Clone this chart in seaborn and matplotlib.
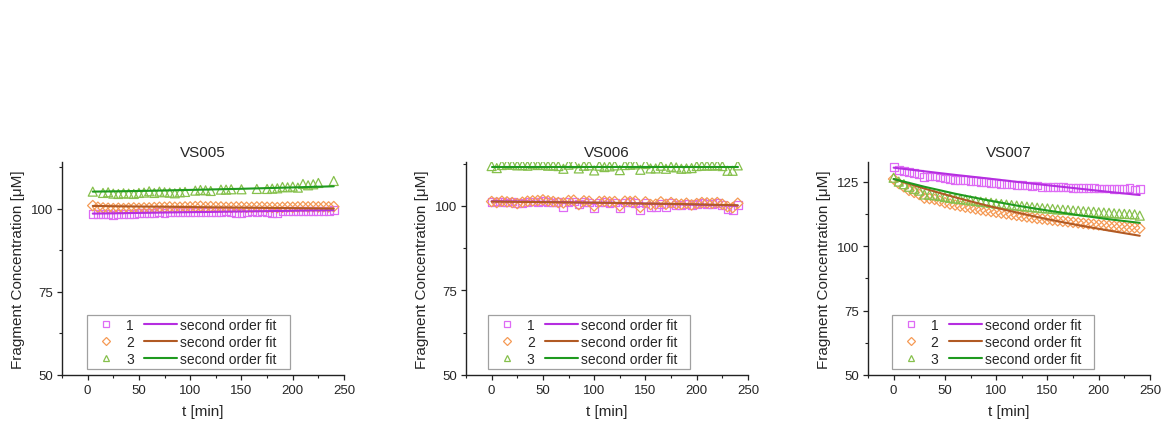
import numpy as np
import pandas as pd
import matplotlib
matplotlib.use("Agg")
import matplotlib.pyplot as plt
from matplotlib.lines import Line2D
from matplotlib.patches import Rectangle
from matplotlib.ticker import MultipleLocator
import seaborn as sns

nan = np.nan

# ---------------- data ----------------
panel_titles = ["VS005", "VS006", "VS007"]
series_labels = ["1", "2", "3"]
fit_label = "second order fit"

t_vs005 = [5, 10, 15, 20, 25, 30, 35, 40, 45, 50, 55, 60, 65, 70, 75, 80, 85, 90, 95, 100,
           105, 110, 115, 120, 125, 130, 135, 140, 145, 150, 155, 160, 165, 170, 175, 180,
           185, 190, 195, 200, 205, 210, 215, 220, 225, 230, 235, 240]
t_full = [0, 5, 10, 15, 20, 25, 30, 35, 40, 45, 50, 55, 60, 65, 70, 75, 80, 85, 90, 95, 100,
          105, 110, 115, 120, 125, 130, 135, 140, 145, 150, 155, 160, 165, 170, 175, 180,
          185, 190, 195, 200, 205, 210, 215, 220, 225, 230, 235, 240]

vs005_1 = [98.5, 98.3, 98.4, 98.4, 98.2, 98.3, 98.4, 98.5, 98.5, 98.6,
           98.7, 98.6, 98.8, 98.9, 98.8, 98.9, 99.0, 98.9, 99.1, 99.0,
           99.0, 99.1, 99.0, 99.1, 99.0, 99.1, 99.2, 99.1, 98.6, 98.7,
           99.1, 99.2, 99.0, 99.2, 99.1, 98.8, 98.8, 99.2, 99.3, 99.3,
           99.2, 99.4, 99.3, 99.4, 99.3, 99.4, 99.4, 99.5]
vs005_2 = [100.9, 100.4, 100.2, 100.1, 100.0, 100.1, 100.0, 100.1, 100.2, 100.1,
           100.2, 100.2, 100.3, 100.4, 100.4, 100.5, 100.4, 100.4, 100.5, 100.5,
           100.6, 100.7, 100.5, 100.6, 100.5, 100.5, 100.4, 100.4, 100.5, 100.5,
           100.4, 100.4, 100.5, 100.5, 100.4, 100.4, 100.3, 100.4, 100.5, 100.4,
           100.5, 100.6, 100.5, 100.6, 100.5, 100.6, 100.5, 100.6]
vs005_3 = [105.1, nan, 104.7, 104.9, 104.5, 104.4, 104.6, 104.5, 104.4, 104.7,
           104.8, 105.2, 104.7, 105.1, 104.9, 104.8, 104.6, 104.9, 105.0, nan,
           105.4, 105.6, 105.5, 105.3, nan, 105.7, 105.7, 105.8, nan, 105.8,
           nan, nan, 105.9, nan, 105.9, 106.0, 106.1, 106.5, 106.4, 106.6,
           106.3, 107.4, 107.0, 107.3, 107.7, nan, nan, 108.3]

vs006_1 = [101.2, 101.3, 101.1, 101.0, 101.3, 100.8, 100.9, 101.2, 101.3, 101.2,
           101.4, 101.2, 101.0, 101.1, 99.8, 101.2, 101.3, 100.6, 101.2, 101.0,
           99.5, 101.0, 101.1, 100.9, 101.0, 99.4, 101.0, 101.1, 100.8, 98.7,
           100.9, 99.6, 99.8, 100.7, 99.8, 100.8, 100.4, 100.2, 100.5, 100.2,
           100.6, 100.8, 100.7, 100.6, 100.8, 100.4, 99.1, 98.8, 100.3]
vs006_2 = [101.3, 101.0, 101.4, 101.2, 101.0, 100.7, 101.1, 101.4, 101.5, 101.6,
           101.8, 101.5, 101.3, 101.0, 100.9, 101.6, 101.7, 100.4, 101.5, 101.4,
           100.0, 101.3, 101.4, 101.2, 101.3, 100.0, 101.4, 101.3, 101.4, 99.6,
           101.2, 100.4, 100.5, 101.2, 100.5, 101.0, 100.6, 100.5, 100.8, 100.3,
           100.7, 101.0, 100.9, 100.8, 101.0, 100.5, 99.8, 99.5, 100.8]
vs006_3 = [111.8, 111.2, 112.1, 112.3, 112.2, 112.0, 112.1, 111.9, 112.3, 112.1,
           112.2, 111.9, 112.0, 111.8, 111.0, 112.2, 112.6, 111.1, 111.9, 112.0,
           110.5, 111.9, 111.5, 111.7, 112.0, 110.6, 112.1, 112.2, 112.3, 110.7,
           112.4, 111.1, 111.1, 111.9, 111.0, 111.6, 111.4, 111.0, 111.1, 111.2,
           111.8, 111.9, 112.0, 111.9, 112.1, 111.8, 110.4, 110.4, 112.0]

vs007_1 = [130.5, 129.6, 129.0, 128.6, 128.3, 128.1, 126.8, 127.0, 127.0, 126.6,
           126.2, 126.0, 125.7, 125.6, 125.5, 125.3, 125.2, 125.0, 124.8, 124.5,
           124.4, 124.2, 124.0, 123.9, 123.8, 123.6, 123.5, 123.4, 123.5, 122.9,
           123.0, 122.9, 122.9, 122.8, 122.7, 122.6, 122.5, 122.5, 122.4, 122.4,
           122.3, 122.3, 122.3, 122.2, 122.1, 122.1, 122.4, 121.8, 122.0]
vs007_2 = [126.0, 124.3, 123.0, 121.6, 120.8, 120.0, 118.6, 118.4, 118.1, 117.5,
           116.8, 116.3, 115.9, 115.5, 115.1, 114.8, 114.4, 114.0, 113.7, 113.4,
           113.1, 112.8, 112.5, 112.2, 111.9, 111.6, 111.3, 111.0, 110.7, 110.5,
           110.3, 110.0, 109.8, 109.6, 109.4, 109.2, 109.0, 108.8, 108.6, 108.4,
           108.2, 108.1, 107.9, 107.7, 107.6, 107.4, 107.2, 107.1, 106.9]
vs007_3 = [126.5, 125.0, 124.0, 123.0, 122.2, 121.5, 120.0, 119.9, 119.7, 119.4,
           119.0, 118.7, 118.4, 118.2, 118.0, 117.7, 117.5, 117.2, 117.0, 116.8,
           116.5, 116.3, 116.1, 115.9, 115.7, 115.5, 115.3, 115.1, 114.9, 114.7,
           114.6, 114.4, 114.2, 114.1, 114.0, 113.8, 113.7, 113.5, 113.4, 113.3,
           113.1, 113.0, 112.9, 112.7, 112.6, 112.5, 112.4, 112.3, 111.8]

# second order fit curves, read at a few times
fit_t_vs005 = [5, 30, 60, 90, 120, 150, 180, 210, 240]
fit_t = [0, 30, 60, 90, 120, 150, 180, 210, 240]
fit_vs005_1 = [98.5, 98.6, 98.75, 98.9, 99.0, 99.15, 99.25, 99.4, 99.5]
fit_vs005_2 = [100.8, 100.7, 100.6, 100.5, 100.4, 100.3, 100.2, 100.1, 100.0]
fit_vs005_3 = [105.1, 105.2, 105.35, 105.55, 105.75, 105.95, 106.2, 106.45, 106.7]
fit_vs006_1 = [101.4, 101.3, 101.2, 101.0, 100.9, 100.7, 100.5, 100.3, 100.1]
fit_vs006_2 = [101.3, 101.2, 101.1, 101.0, 100.9, 100.7, 100.6, 100.4, 100.2]
fit_vs006_3 = [111.6, 111.6, 111.6, 111.6, 111.6, 111.6, 111.6, 111.6, 111.6]
fit_vs007_1 = [130.4, 129.0, 127.6, 126.3, 124.9, 123.6, 122.3, 121.0, 119.8]
fit_vs007_2 = [126.0, 122.3, 118.9, 115.8, 113.0, 110.4, 108.1, 106.0, 104.0]
fit_vs007_3 = [126.0, 123.0, 120.3, 117.9, 115.7, 113.8, 112.0, 110.4, 109.0]

y_tops = [114, 113, 132.6]

# ---------------- style ----------------
sns.set_theme(style="ticks")
plt.rcParams["font.family"] = ["Liberation Sans", "DejaVu Sans"]

marker_shapes = ["s", "D", "^"]
marker_sizes = [32, 28, 42]
marker_colors = ["#de6af5", "#f59a55", "#86c04c"]
line_colors = ["#b52ee0", "#b15a24", "#1f9a1f"]

panels = [
    (t_vs005, [vs005_1, vs005_2, vs005_3], fit_t_vs005, [fit_vs005_1, fit_vs005_2, fit_vs005_3]),
    (t_full, [vs006_1, vs006_2, vs006_3], fit_t, [fit_vs006_1, fit_vs006_2, fit_vs006_3]),
    (t_full, [vs007_1, vs007_2, vs007_3], fit_t, [fit_vs007_1, fit_vs007_2, fit_vs007_3]),
]

fig = plt.figure(figsize=(11.68, 4.35), dpi=100)
lefts = [62 / 1168, 466 / 1168, 868 / 1168]
legend_x = [0.089, 0.078, 0.084]
w = 282 / 1168
b = (435 - 376) / 435
h = 213 / 435

axes, legends = [], []
for i, (tt, ys, ft, fys) in enumerate(panels):
    ax = fig.add_axes([lefts[i], b, w, h])
    for k in range(3):
        sns.scatterplot(x=tt, y=ys[k], ax=ax, marker=marker_shapes[k], s=marker_sizes[k],
                        facecolor="none", edgecolor=marker_colors[k], linewidth=0.9,
                        legend=False, zorder=2)
    for k in range(3):
        sns.lineplot(x=ft, y=fys[k], ax=ax, color=line_colors[k], linewidth=1.5,
                     legend=False, zorder=3)
    ax.set_xlim(-25, 250)
    ax.set_ylim(50, y_tops[i])
    ax.xaxis.set_major_locator(MultipleLocator(50))
    ax.xaxis.set_minor_locator(MultipleLocator(25))
    ax.yaxis.set_major_locator(MultipleLocator(25))
    ax.yaxis.set_minor_locator(MultipleLocator(12.5))
    ax.tick_params(which="major", direction="out", length=3.6, width=0.9, labelsize=9.5,
                   color="#222222", pad=3)
    ax.tick_params(which="minor", direction="out", length=2.2, width=0.8, color="#222222")
    for sp in ["left", "bottom"]:
        ax.spines[sp].set_linewidth(1.0)
        ax.spines[sp].set_color("#222222")
    sns.despine(ax=ax)
    ax.set_xlabel("t [min]", fontsize=11, labelpad=6)
    ax.set_ylabel("Fragment Concentration [\u03bcM]", fontsize=11, labelpad=4)
    ax.set_title(panel_titles[i], fontsize=11, pad=4)

    m_handles = [Line2D([], [], linestyle="none", marker=marker_shapes[k],
                        markersize=[4.5, 4.5, 5][k], markerfacecolor="none",
                        markeredgecolor=marker_colors[k], markeredgewidth=0.9)
                 for k in range(3)]
    l_handles = [Line2D([], [], color=line_colors[k], linewidth=1.5) for k in range(3)]
    leg = ax.legend(m_handles + l_handles, series_labels + [fit_label] * 3,
                    ncol=2, loc="lower left", bbox_to_anchor=(legend_x[i], 0.028),
                    fontsize=10, frameon=False, borderpad=0.2, labelspacing=0.22,
                    handlelength=2.35, handletextpad=0.25, columnspacing=0.75,
                    borderaxespad=0)
    leg.set_zorder(6)
    axes.append(ax)
    legends.append(leg)

# legend frames with a wider right margin
fig.canvas.draw()
renderer = fig.canvas.get_renderer()
inv = fig.transFigure.inverted()
for ax, leg in zip(axes, legends):
    bb = leg.get_window_extent(renderer)
    (x0, y0) = inv.transform((bb.x0, bb.y0))
    (x1, y1) = inv.transform((bb.x1 + 10, bb.y1))
    frame = Rectangle((x0, y0), x1 - x0, y1 - y0, transform=fig.transFigure,
                      facecolor="white", edgecolor="#a0a0a0", linewidth=0.9,
                      zorder=5, clip_on=False)
    ax.add_patch(frame)

fig.savefig("out.png", dpi=100)
